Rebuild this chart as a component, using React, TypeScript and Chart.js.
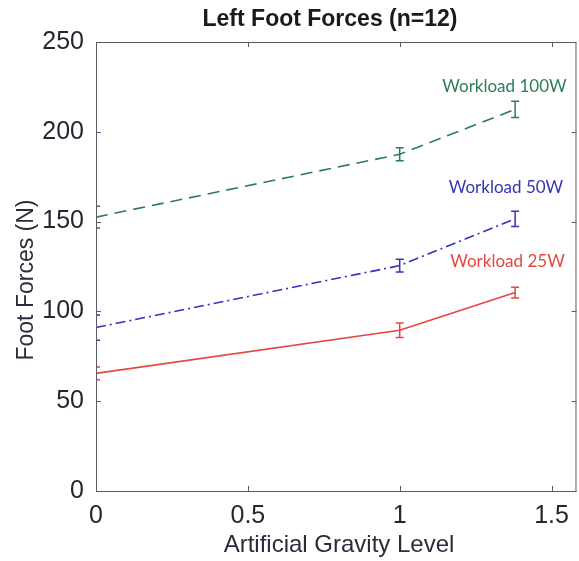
import React, { useEffect, useRef } from "react";
import { Chart, registerables } from "chart.js";

Chart.register(...registerables);

// Artificial gravity levels tested
const gravityLevels = [0, 1, 1.38];

// Mean left-foot force (N) per workload
const force100W = [152.5, 187.5, 212.5];
const force50W = [91, 125.5, 151.5];
const force25W = [65.5, 89.5, 110.5];

// Standard error (N)
const err100W = [6, 3.6, 4.5];
const err50W = [7, 3.6, 4.2];
const err25W = [3.5, 4, 3];

const yTicks = [0, 50, 100, 150, 200, 250];
const xTicks = [0, 0.5, 1, 1.5];

const seriesNames = ["Workload 100W", "Workload 50W", "Workload 25W"];
const seriesColors = ["#2b7d55", "#3434b8", "#e6463e"];
// where each workload name is written, in data units
const nameAnchorX = [1.345, 1.35, 1.355];
const nameAnchorY = [225, 169, 127.5];

const AXIS_FONT = "'Liberation Sans', Arial, sans-serif";

const errorBarPlugin = {
  id: "errorBars",
  afterDatasetsDraw(chart: any) {
    const { ctx, chartArea, scales } = chart;
    ctx.save();
    ctx.beginPath();
    ctx.rect(chartArea.left, chartArea.top, chartArea.right - chartArea.left, chartArea.bottom - chartArea.top);
    ctx.clip();
    chart.data.datasets.forEach((ds: any) => {
      const errs: number[] = ds.errors || [];
      ctx.strokeStyle = ds.borderColor;
      ctx.lineWidth = 1.5;
      ctx.setLineDash([]);
      ds.data.forEach((p: any, i: number) => {
        const x = scales.x.getPixelForValue(p.x);
        const yTop = scales.y.getPixelForValue(p.y + errs[i]);
        const yBot = scales.y.getPixelForValue(p.y - errs[i]);
        const cap = 4;
        ctx.beginPath();
        ctx.moveTo(x, yTop);
        ctx.lineTo(x, yBot);
        ctx.moveTo(x - cap, yTop);
        ctx.lineTo(x + cap, yTop);
        ctx.moveTo(x - cap, yBot);
        ctx.lineTo(x + cap, yBot);
        ctx.stroke();
      });
    });
    ctx.restore();
  },
};

const frameAndTextPlugin = {
  id: "frameAndText",
  afterDraw(chart: any) {
    const { ctx, chartArea, scales } = chart;
    const { left, right, top, bottom } = chartArea;
    ctx.save();
    // box around the axes
    ctx.strokeStyle = "#5a5a66";
    ctx.lineWidth = 1;
    ctx.setLineDash([]);
    ctx.strokeRect(left + 0.5, top + 0.5, right - left - 1, bottom - top);
    // inward tick marks on all four sides
    const tl = 5;
    ctx.beginPath();
    xTicks.forEach((v) => {
      const x = Math.round(scales.x.getPixelForValue(v)) + 0.5;
      ctx.moveTo(x, bottom);
      ctx.lineTo(x, bottom - tl);
      ctx.moveTo(x, top);
      ctx.lineTo(x, top + tl);
    });
    yTicks.forEach((v) => {
      const y = Math.round(scales.y.getPixelForValue(v)) + 0.5;
      ctx.moveTo(left, y);
      ctx.lineTo(left + tl, y);
      ctx.moveTo(right, y);
      ctx.lineTo(right - tl, y);
    });
    ctx.stroke();

    // title
    ctx.fillStyle = "#1a1a1a";
    ctx.textAlign = "center";
    ctx.textBaseline = "middle";
    ctx.font = `bold 23px ${AXIS_FONT}`;
    ctx.fillText("Left Foot Forces (n=12)", 330, 20);

    // axis titles
    ctx.fillStyle = "#2b2b3a";
    ctx.font = `24px ${AXIS_FONT}`;
    ctx.fillText("Artificial Gravity Level", 339, 545);
    ctx.save();
    ctx.translate(27, 280);
    ctx.rotate(-Math.PI / 2);
    ctx.font = `23px ${AXIS_FONT}`;
    ctx.fillText("Foot Forces (N)", 0, 0);
    ctx.restore();

    // workload names
    ctx.font = "17px Lato, 'Open Sans', sans-serif";
    seriesNames.forEach((name, i) => {
      ctx.fillStyle = seriesColors[i];
      ctx.fillText(
        name,
        scales.x.getPixelForValue(nameAnchorX[i]),
        scales.y.getPixelForValue(nameAnchorY[i])
      );
    });
    ctx.restore();
  },
};

function toPoints(values: number[]) {
  return values.map((v, i) => ({ x: gravityLevels[i], y: v }));
}

export default function App() {
  const canvasRef = useRef<HTMLCanvasElement>(null);

  useEffect(() => {
    document.body.style.margin = "0";
    const canvas = canvasRef.current;
    if (!canvas) return;
    const chart = new Chart(canvas, {
      type: "line",
      data: {
        datasets: [
          {
            label: seriesNames[0],
            data: toPoints(force100W),
            errors: err100W,
            borderColor: seriesColors[0],
            borderDash: [12, 7],
            borderWidth: 1.6,
            pointRadius: 0,
            fill: false,
          } as any,
          {
            label: seriesNames[1],
            data: toPoints(force50W),
            errors: err50W,
            borderColor: seriesColors[1],
            borderDash: [10, 4, 2, 4],
            borderWidth: 1.6,
            pointRadius: 0,
            fill: false,
          } as any,
          {
            label: seriesNames[2],
            data: toPoints(force25W),
            errors: err25W,
            borderColor: seriesColors[2],
            borderWidth: 1.6,
            pointRadius: 0,
            fill: false,
          } as any,
        ],
      },
      options: {
        responsive: false,
        animation: false,
        layout: { padding: { top: 42, right: 1, left: 0, bottom: 0 } },
        plugins: {
          legend: { display: false },
          title: { display: false },
          tooltip: { enabled: false },
        },
        scales: {
          x: {
            type: "linear",
            min: 0,
            max: 1.582,
            grid: { display: false, drawTicks: false },
            border: { display: false },
            afterBuildTicks: (scale: any) => {
              scale.ticks = xTicks.map((v) => ({ value: v }));
            },
            afterFit: (scale: any) => {
              scale.height = 70;
            },
            ticks: {
              padding: 10,
              color: "#262633",
              font: { family: AXIS_FONT, size: 25 },
              maxRotation: 0,
              callback: (v: any) => String(v),
            },
          },
          y: {
            type: "linear",
            min: 0,
            max: 250,
            grid: { display: false, drawTicks: false },
            border: { display: false },
            afterBuildTicks: (scale: any) => {
              scale.ticks = yTicks.map((v) => ({ value: v }));
            },
            afterFit: (scale: any) => {
              scale.width = 96;
            },
            ticks: {
              padding: 12,
              color: "#262633",
              font: { family: AXIS_FONT, size: 25 },
              callback: (v: any) => String(v),
            },
          },
        },
      },
      plugins: [errorBarPlugin, frameAndTextPlugin],
    });
    return () => chart.destroy();
  }, []);

  return (
    <div style={{ position: "absolute", left: 0, top: 0, width: 579, height: 561, background: "#fff" }}>
      <canvas ref={canvasRef} width={579} height={561} />
    </div>
  );
}
